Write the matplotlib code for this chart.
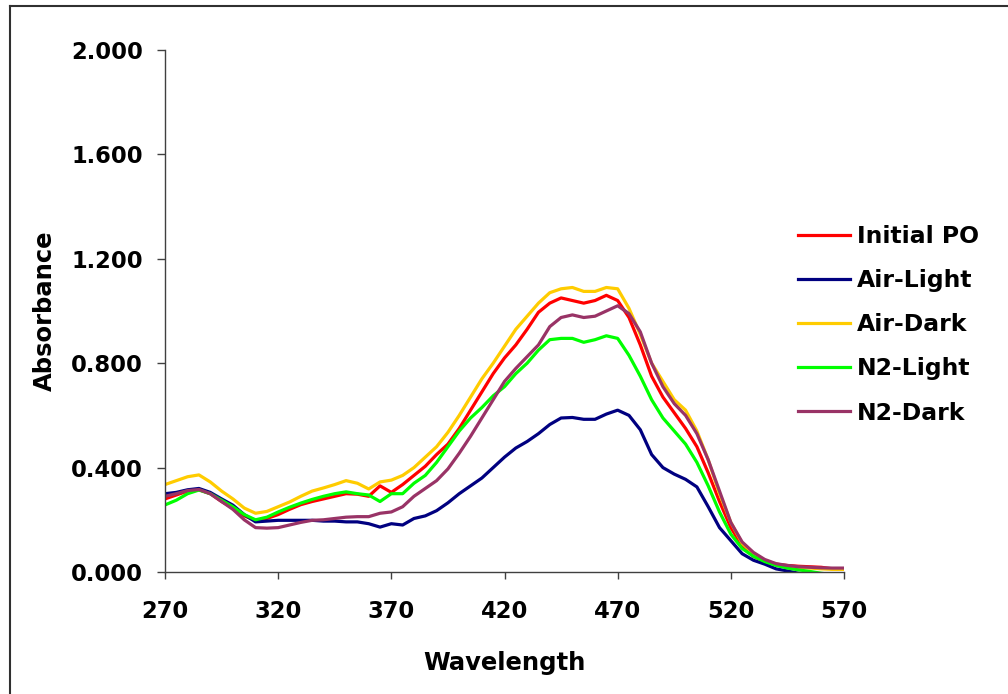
import matplotlib.pyplot as plt
from matplotlib.lines import Line2D

# Wavelength grid (nm) and absorbance of each sample
wavelength = list(range(270, 575, 5))

initial_po = [0.280, 0.295, 0.310, 0.315, 0.300, 0.270, 0.245, 0.215, 0.198, 0.205,
              0.220, 0.240, 0.258, 0.270, 0.280, 0.290, 0.300, 0.298, 0.290, 0.330,
              0.305, 0.335, 0.370, 0.405, 0.450, 0.490, 0.550, 0.620, 0.690, 0.760,
              0.820, 0.870, 0.930, 0.995, 1.030, 1.050, 1.040, 1.030, 1.040, 1.060,
              1.040, 0.975, 0.870, 0.750, 0.670, 0.610, 0.550, 0.480, 0.380, 0.270,
              0.170, 0.100, 0.060, 0.040, 0.030, 0.025, 0.022, 0.020, 0.018, 0.012,
              0.010]

air_light = [0.300, 0.305, 0.315, 0.320, 0.305, 0.280, 0.256, 0.220, 0.192, 0.195,
             0.198, 0.198, 0.198, 0.198, 0.195, 0.195, 0.192, 0.192, 0.185, 0.172,
             0.185, 0.180, 0.205, 0.215, 0.235, 0.265, 0.300, 0.330, 0.360, 0.400,
             0.440, 0.475, 0.500, 0.530, 0.565, 0.590, 0.592, 0.585, 0.585, 0.605,
             0.620, 0.600, 0.545, 0.450, 0.400, 0.375, 0.355, 0.326, 0.250, 0.170,
             0.120, 0.070, 0.045, 0.030, 0.012, 0.004, -0.005, -0.010, -0.010, -0.010,
             -0.010]

air_dark = [0.335, 0.350, 0.365, 0.372, 0.345, 0.310, 0.280, 0.245, 0.225, 0.232,
            0.250, 0.268, 0.290, 0.310, 0.322, 0.335, 0.350, 0.340, 0.318, 0.345,
            0.352, 0.370, 0.400, 0.440, 0.480, 0.535, 0.600, 0.670, 0.740, 0.800,
            0.865, 0.930, 0.980, 1.030, 1.070, 1.085, 1.090, 1.075, 1.075, 1.090,
            1.085, 1.010, 0.910, 0.800, 0.730, 0.660, 0.620, 0.540, 0.430, 0.300,
            0.190, 0.110, 0.070, 0.045, 0.030, 0.022, 0.018, 0.015, 0.012, 0.010,
            0.010]

n2_light = [0.257, 0.275, 0.300, 0.314, 0.300, 0.275, 0.250, 0.220, 0.200, 0.210,
            0.230, 0.248, 0.264, 0.278, 0.290, 0.300, 0.307, 0.300, 0.295, 0.270,
            0.300, 0.300, 0.340, 0.370, 0.420, 0.480, 0.540, 0.590, 0.630, 0.675,
            0.710, 0.760, 0.800, 0.850, 0.890, 0.895, 0.895, 0.880, 0.890, 0.905,
            0.895, 0.830, 0.750, 0.660, 0.590, 0.540, 0.490, 0.420, 0.330, 0.230,
            0.145, 0.090, 0.060, 0.040, 0.025, 0.015, 0.008, 0.002, -0.005, -0.010,
            -0.010]

n2_dark = [0.290, 0.300, 0.312, 0.316, 0.300, 0.270, 0.240, 0.200, 0.170, 0.168,
           0.170, 0.180, 0.190, 0.198, 0.200, 0.205, 0.210, 0.212, 0.212, 0.225,
           0.230, 0.250, 0.290, 0.320, 0.350, 0.395, 0.455, 0.520, 0.590, 0.660,
           0.730, 0.780, 0.825, 0.870, 0.940, 0.975, 0.985, 0.975, 0.980, 1.000,
           1.020, 0.990, 0.920, 0.800, 0.710, 0.645, 0.600, 0.530, 0.430, 0.310,
           0.190, 0.115, 0.075, 0.048, 0.032, 0.025, 0.020, 0.018, 0.016, 0.015,
           0.015]

labels = ['Initial PO', 'Air-Light', 'Air-Dark', 'N2-Light', 'N2-Dark']
colors = ['#FF0000', '#000080', '#FFCC00', '#00FF00', '#993366']
series = [initial_po, air_light, air_dark, n2_light, n2_dark]

y_ticks = [0.0, 0.4, 0.8, 1.2, 1.6, 2.0]
x_ticks = [270, 320, 370, 420, 470, 520, 570]

fig = plt.figure(figsize=(10.08, 6.94), dpi=100)
ax = fig.add_axes([0.1637, 0.1758, 0.6736, 0.7522])

# draw back-to-front so the first sample sits under the later ones
for vals, lab, col in zip(series, labels, colors):
    ax.plot(wavelength, vals, color=col, lw=2.3, label=lab, solid_capstyle='butt')

ax.set_xlim(270, 570)
ax.set_ylim(0, 2.0)
ax.set_xticks(x_ticks)
ax.set_yticks(y_ticks)
ax.set_yticklabels(['%.3f' % v for v in y_ticks])

for side in ['top', 'right']:
    ax.spines[side].set_visible(False)
for side in ['left', 'bottom']:
    ax.spines[side].set_color('#404040')
    ax.spines[side].set_linewidth(1.0)

ax.tick_params(axis='y', direction='out', length=6, width=1, color='#404040', pad=10,
               labelsize=16.3)
ax.tick_params(axis='x', direction='out', length=5, width=1, color='#404040', pad=15,
               labelsize=16.3)
for t in ax.get_xticklabels() + ax.get_yticklabels():
    t.set_fontweight('bold')

ax.set_xlabel('Wavelength', fontsize=17.5, fontweight='bold', labelpad=20)
ax.set_ylabel('Absorbance', fontsize=17.5, fontweight='bold', labelpad=10)

handles = [Line2D([], [], color=c, lw=2.3) for c in colors]
leg = fig.legend(handles, labels, loc='center left', bbox_to_anchor=(0.780, 0.532),
                 frameon=False, borderpad=0, handlelength=2.2, handletextpad=0.3,
                 labelspacing=0.9, prop={'weight': 'bold', 'size': 16.9})

# thin frame along the top and left of the chart area
fig.add_artist(Line2D([0.0099, 0.0099], [0.0, 0.992], transform=fig.transFigure,
                      color='#303030', lw=1.5))
fig.add_artist(Line2D([0.0099, 1.0], [0.992, 0.992], transform=fig.transFigure,
                      color='#303030', lw=1.5))

fig.savefig('out.png', dpi=100, facecolor='white')
